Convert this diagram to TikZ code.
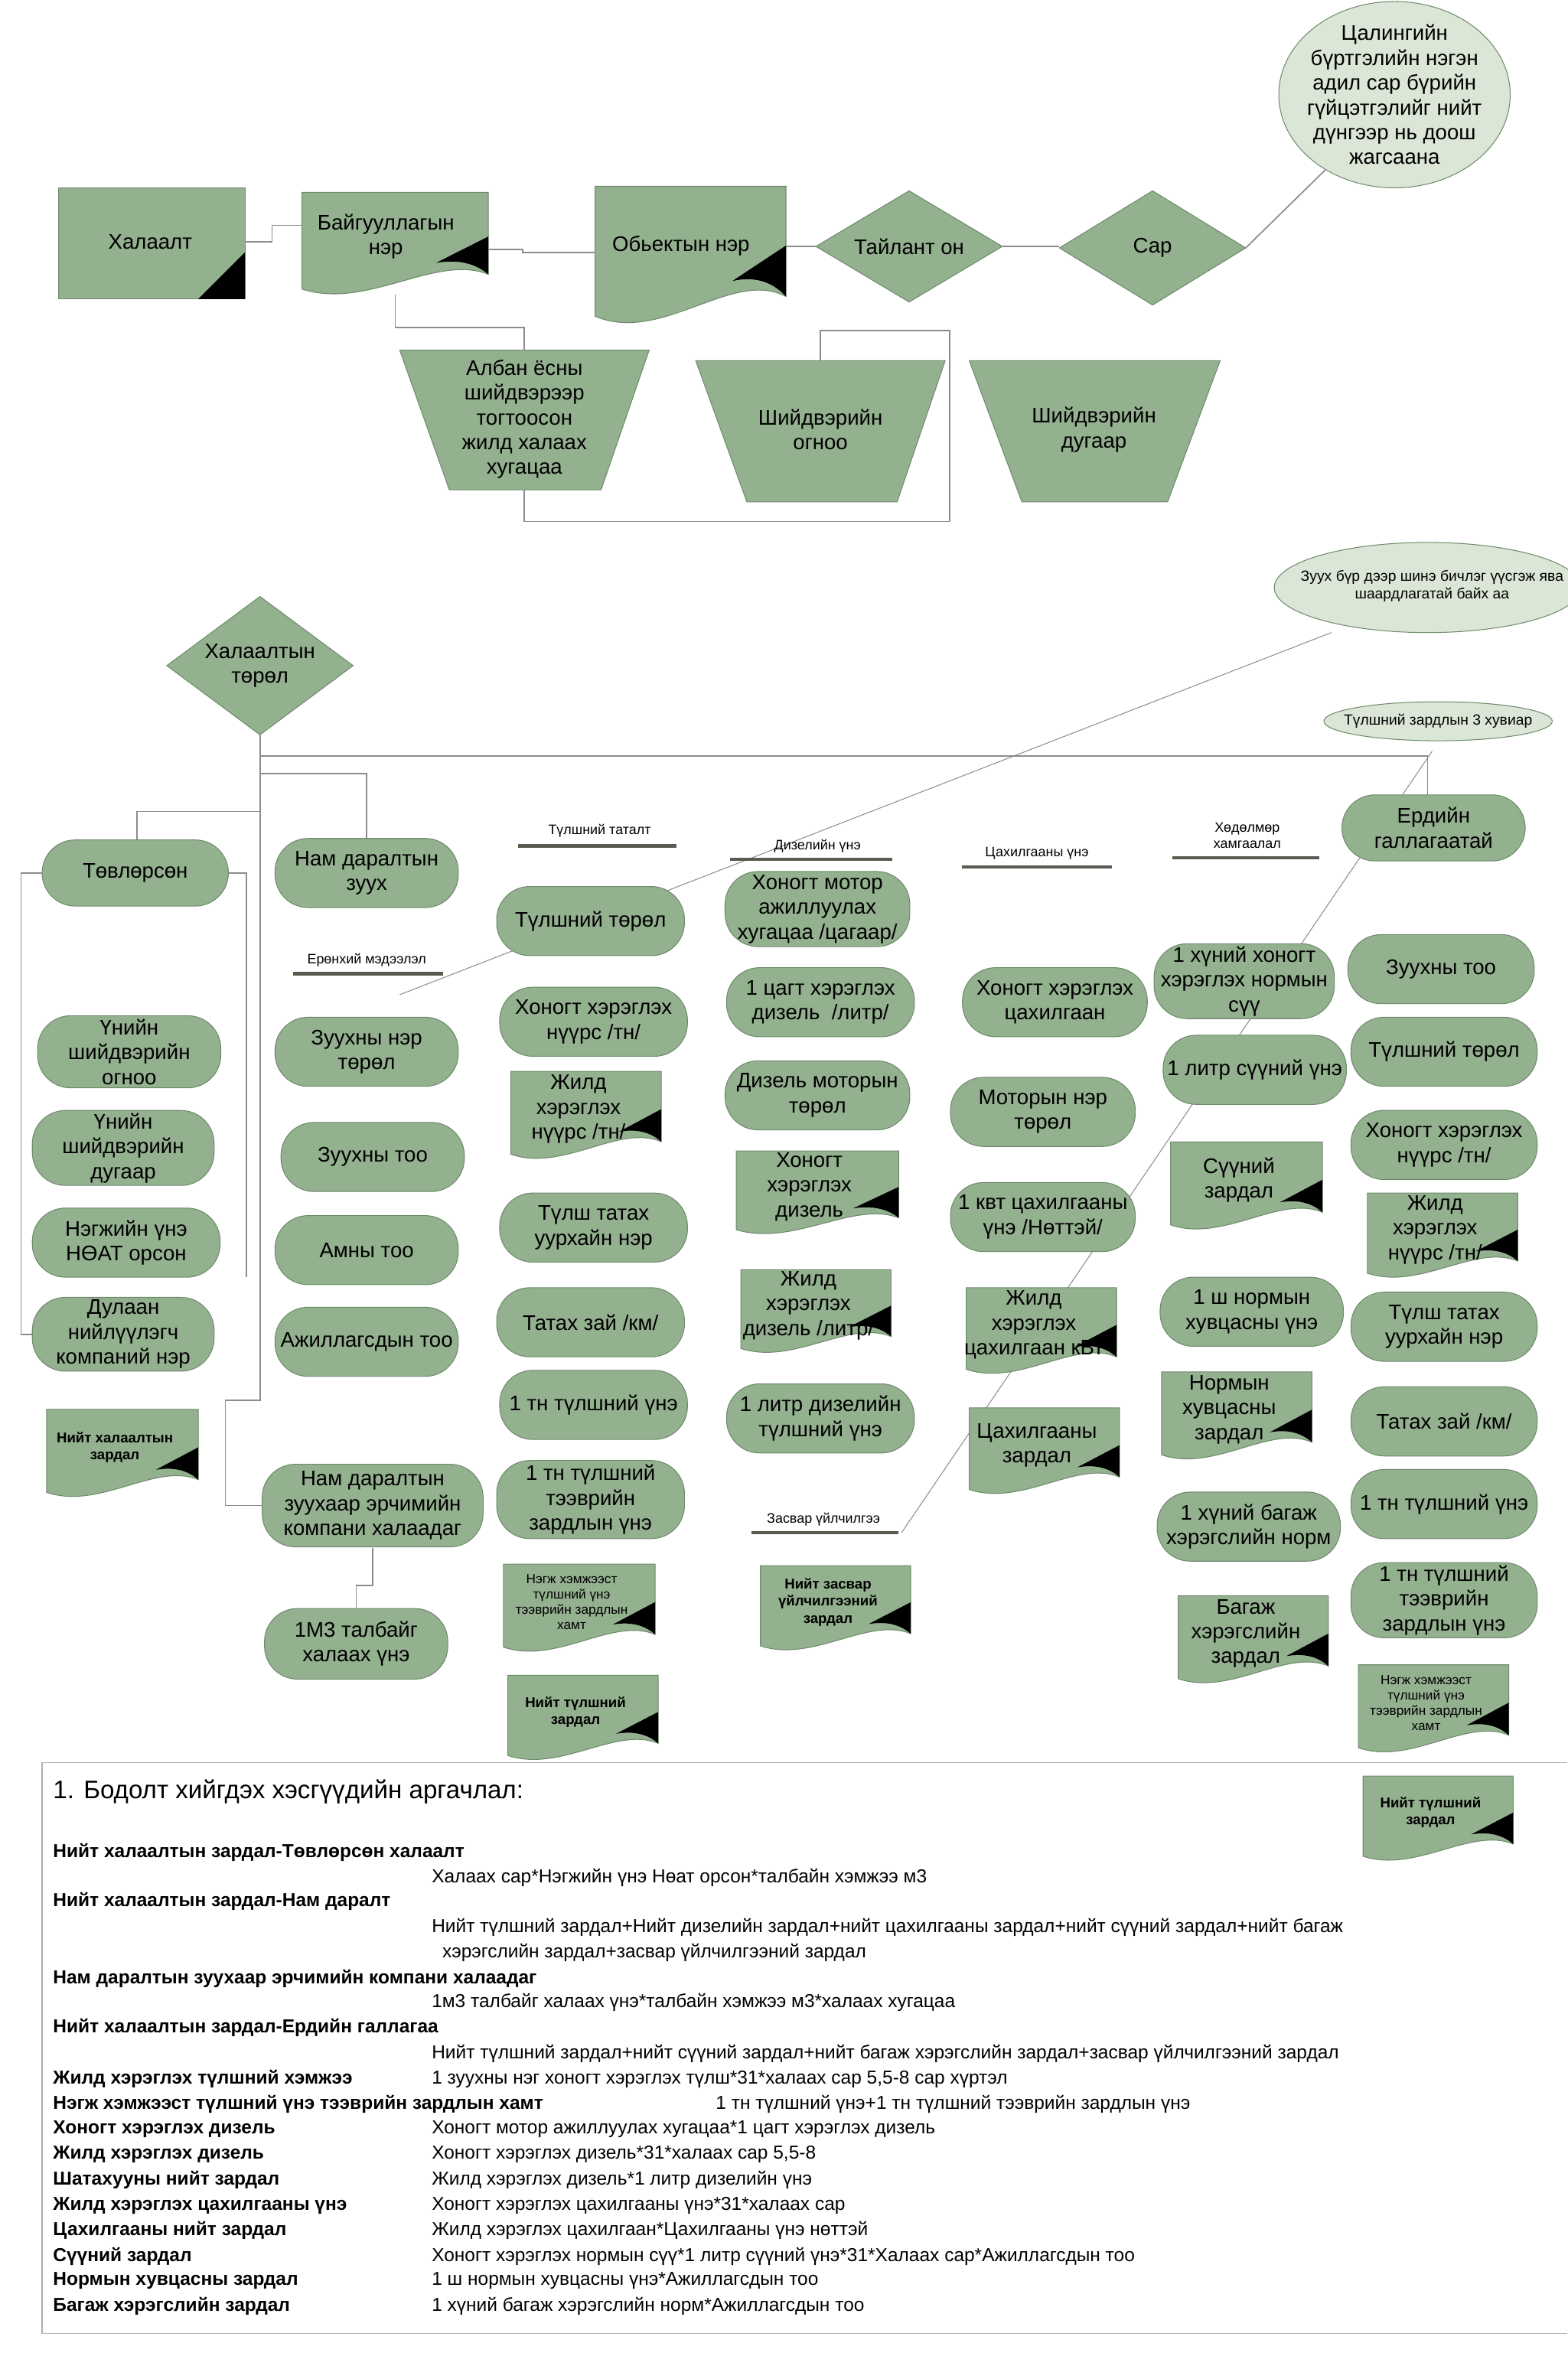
\documentclass[tikz,border=0pt]{standalone}
\usepackage{fontspec}
\setmainfont{Liberation Sans}
\begin{document}
\definecolor{G}{HTML}{93B08F}
\definecolor{Gd}{HTML}{6E8A6B}
\definecolor{EL}{HTML}{DCE6D6}
\definecolor{LN}{HTML}{8C8C8C}
\definecolor{BAR}{HTML}{5A5A50}
\newcommand\dc[7]{%
 \pgfmathsetmacro\dW{#4-#2}\pgfmathsetmacro\dH{#5-#3}%
 \fill[G,draw=Gd,line width=0.3pt] (#2,#3) -- (#4,#3) -- (#4,#5-0.22*\dH) .. controls (#2+0.72*\dW,#5-0.42*\dH) and (#2+0.35*\dW,#5+0.12*\dH) .. (#2,#5-0.08*\dH) -- cycle;
 \fill[black] (#4,#3+0.42*\dH) -- (#4,#5-0.22*\dH) .. controls (#4-0.08*\dW,#5-0.34*\dH) and (#4-0.18*\dW,#5-0.36*\dH) .. (#4-0.28*\dW,#5-0.33*\dH) -- cycle;
 \node[font=#6,align=center] (#1) at (#2+0.45*\dW,#3+0.42*\dH) {#7};}
\newcommand\rb[5]{\node[rb,minimum width=#4*0.02cm,minimum height=#5*0.02cm] (#1) at (#2,#3) {\strut#4};}
\begin{tikzpicture}[x={(0.02cm,0)},y={(0,-0.02cm)},
 rb/.style={fill=G,draw=Gd,line width=0.3pt,rounded corners=0.44cm,align=center,font=\fontsize{8}{9.4}\selectfont,inner sep=1pt},
 ln/.style={draw=LN,line width=0.5pt},
 bar/.style={draw=BAR,line width=1.2pt},
 lbl/.style={font=\fontsize{5.2}{6}\selectfont,align=center},
 nf/.style={font=\fontsize{8}{9.4}\selectfont,align=center},
 sb/.style={font=\fontsize{5.4}{6.4}\selectfont\bfseries},
 ss/.style={font=\fontsize{5}{5.8}\selectfont},
 tb/.style={anchor=base west,font=\fontsize{7.1}{8}\selectfont\bfseries,inner sep=0},
 tv/.style={anchor=base west,font=\fontsize{7.1}{8}\selectfont,inner sep=0}]
\useasboundingbox (0,0) rectangle (1043,1568);
\fill[white] (0,0) rectangle (1043,1568);
% ---------- top ----------
\fill[G,draw=Gd,line width=0.3pt] (39,125) rectangle (163,199);
\fill[black] (163,168) -- (163,199) -- (132,199) -- cycle;
\node[nf] (hal) at (100,161) {Халаалт};
\dc{bai}{201}{128}{325}{198}{\fontsize{8}{9.4}\selectfont}{Байгууллагын\\нэр}
\dc{obj}{396}{124}{523}{218}{\fontsize{8}{9.4}\selectfont}{Обьектын нэр}
\path (bai.center)++(0,-8) coordinate (baiT);
\fill[G,draw=Gd,line width=0.3pt] (543,164) -- (605,127) -- (667,164) -- (605,201) -- cycle;
\node[nf] (tai) at (605,164) {Тайлант он};
\fill[G,draw=Gd,line width=0.3pt] (705,165) -- (767,127) -- (829,165) -- (767,203) -- cycle;
\node[nf] (sar) at (767,165) {Сар};
\fill[EL,draw=Gd,line width=0.3pt] (928,63) ellipse (77 and 62);
\node[nf] (cal) at (928,63) {Цалингийн\\бүртгэлийн нэгэн\\адил сар бүрийн\\гүйцэтгэлийг нийт\\дүнгээр нь доош\\жагсаана};
\fill[G,draw=Gd,line width=0.3pt] (266,233) -- (432,233) -- (400,326) -- (299,326) -- cycle;
\node[nf] (alb) at (349,279) {Албан ёсны\\шийдвэрээр\\тогтоосон\\жилд халаах\\хугацаа};
\fill[G,draw=Gd,line width=0.3pt] (463,240) -- (629,240) -- (597,334) -- (497,334) -- cycle;
\node[nf] (ogn) at (546,286) {Шийдвэрийн\\огноо};
\fill[G,draw=Gd,line width=0.3pt] (645,240) -- (812,240) -- (777,334) -- (680,334) -- cycle;
\node[nf] (dug) at (728,286) {Шийдвэрийн\\дугаар};
\draw[ln] (163,161) -- (181,161) -- (181,150) -- (201,150);
\draw[ln] (325,166) -- (348,166) -- (348,168) -- (396,168);
\draw[ln] (523,164) -- (543,164);
\draw[ln] (667,164) -- (705,164);
\draw[ln] (829,165) -- (882,113);
\draw[ln] (263,196) -- (263,218) -- (349,218) -- (349,233);
\draw[ln] (546,240) -- (546,220) -- (632,220) -- (632,347) -- (349,347) -- (349,326);
% ---------- middle ----------
\fill[G,draw=Gd,line width=0.3pt] (111,443) -- (173,397) -- (235,443) -- (173,489) -- cycle;
\node[nf] (tor) at (173,443) {Халаалтын\\төрөл};
\fill[EL,draw=Gd,line width=0.3pt] (950,391) ellipse (102 and 30);
\node[font=\fontsize{5.6}{6.6}\selectfont,align=center] (zuuh) at (953,390) {Зуух бүр дээр шинэ бичлэг үүсгэж ява\\шаардлагатай байх аа};
\fill[EL,draw=Gd,line width=0.3pt] (957,480) ellipse (76 and 13);
\node[font=\fontsize{5.6}{6.6}\selectfont] (h3) at (957,480) {Түлшний зардлын 3 хувиар};
\draw[ln,line width=0.3pt] (886,421) -- (266,662);
\draw[ln,line width=0.3pt] (953,500) -- (600,1020);
% tree lines
\draw[ln] (173,489) -- (173,932) -- (150,932) -- (150,1002) -- (175,1002);
\draw[ln] (173,503) -- (950,503) -- (950,530);
\draw[ln] (173,540) -- (91,540) -- (91,560);
\draw[ln] (173,515) -- (244,515) -- (244,560);
\draw[ln] (28,581) -- (14,581) -- (14,888) -- (22,888);
\draw[ln] (152,581) -- (164,581) -- (164,850);
\draw[ln] (248,1030) -- (248,1055) -- (237,1055) -- (237,1070);
% col A
\node[rb,minimum width=2.48cm,minimum height=0.88cm] (tov) at (90,581) {Төвлөрсөн};
\node[rb,minimum width=2.44cm,minimum height=0.96cm] (a1) at (86,700) {Үнийн\\шийдвэрийн\\огноо};
\node[rb,minimum width=2.42cm,minimum height=0.96cm] (a2) at (82,764) {Үнийн\\шийдвэрийн\\дугаар};
\node[rb,minimum width=2.5cm,minimum height=0.92cm] (a3) at (84,827) {Нэгжийн үнэ\\НӨАТ орсон};
\node[rb,minimum width=2.42cm,minimum height=0.94cm] (a4) at (82,888) {Дулаан\\нийлүүлэгч\\компаний нэр};
\dc{a5}{31}{938}{132}{998}{\fontsize{5.4}{6.4}\selectfont\bfseries}{Нийт халаалтын\\зардал}
% col B
\node[rb,minimum width=2.44cm,minimum height=0.92cm] (nam) at (244,581) {Нам даралтын\\зуух};
\node[lbl] (b0) at (244,639) {Ерөнхий мэдээлэл};
\draw[bar] (195,648) -- (295,648);
\node[rb,minimum width=2.44cm,minimum height=0.92cm] (b1) at (244,700) {Зуухны нэр\\төрөл};
\node[rb,minimum width=2.44cm,minimum height=0.92cm] (b2) at (248,770) {Зуухны тоо};
\node[rb,minimum width=2.44cm,minimum height=0.92cm] (b3) at (244,832) {Амны тоо};
\node[rb,minimum width=2.44cm,minimum height=0.92cm] (b4) at (244,893) {Ажиллагсдын тоо};
\node[rb,minimum width=2.94cm,minimum height=1.1cm] (b5) at (248,1002) {Нам даралтын\\зуухаар эрчимийн\\компани халаадаг};
\node[rb,minimum width=2.44cm,minimum height=0.94cm] (b6) at (237,1094) {1М3 талбайг\\халаах үнэ};
% col C
\node[lbl] (c0) at (399,553) {Түлшний таталт};
\draw[bar] (345,563) -- (450,563);
\node[rb,minimum width=2.5cm,minimum height=0.92cm] (c1) at (393,613) {Түлшний төрөл};
\node[rb,minimum width=2.5cm,minimum height=0.92cm] (c2) at (395,680) {Хоногт хэрэглэх\\нүүрс /тн/};
\dc{c3}{340}{713}{440}{773}{\fontsize{8}{9.4}\selectfont}{Жилд\\хэрэглэх\\нүүрс /тн/};
\node[rb,minimum width=2.5cm,minimum height=0.92cm] (c4) at (395,817) {Түлш татах\\уурхайн нэр};
\node[rb,minimum width=2.5cm,minimum height=0.92cm] (c5) at (393,880) {Татах зай /км/};
\node[rb,minimum width=2.5cm,minimum height=0.92cm] (c6) at (395,935) {1 тн түлшний үнэ};
\node[rb,minimum width=2.5cm,minimum height=1.04cm] (c7) at (393,998) {1 тн түлшний\\тээврийн\\зардлын үнэ};
\dc{c8}{335}{1041}{436}{1101}{\fontsize{5}{5.8}\selectfont}{Нэгж хэмжээст\\түлшний үнэ\\тээврийн зардлын\\хамт}
\dc{c9}{338}{1115}{438}{1173}{\fontsize{5.4}{6.4}\selectfont\bfseries}{Нийт түлшний\\зардал}
% col D
\node[lbl] (d0) at (544,563) {Дизелийн үнэ};
\draw[bar] (486,572) -- (594,572);
\node[rb,minimum width=2.46cm,minimum height=1.0cm] (d1) at (544,605) {Хоногт мотор\\ажиллуулах\\хугацаа /цагаар/};
\node[rb,minimum width=2.5cm,minimum height=0.92cm] (d2) at (546,667) {1 цагт хэрэглэх\\дизель \ /литр/};
\node[rb,minimum width=2.46cm,minimum height=0.92cm] (d3) at (544,729) {Дизель моторын\\төрөл};
\dc{d4}{490}{766}{598}{823}{\fontsize{8}{9.4}\selectfont}{Хоногт\\хэрэглэх\\дизель}
\dc{d5}{493}{845}{593}{902}{\fontsize{8}{9.4}\selectfont}{Жилд\\хэрэглэх\\дизель /литр/}
\node[rb,minimum width=2.5cm,minimum height=0.92cm] (d6) at (546,944) {1 литр дизелийн\\түлшний үнэ};
\node[lbl] (d7) at (548,1011) {Засвар үйлчилгээ};
\draw[bar] (500,1020) -- (598,1020);
\dc{d8}{506}{1042}{606}{1100}{\fontsize{5.4}{6.4}\selectfont\bfseries}{Нийт засвар\\үйлчилгээний\\зардал}
% col E
\node[lbl] (e0) at (690,568) {Цахилгааны үнэ};
\draw[bar] (640,577) -- (740,577);
\node[rb,minimum width=2.46cm,minimum height=0.92cm] (e1) at (702,667) {Хоногт хэрэглэх\\цахилгаан};
\node[rb,minimum width=2.46cm,minimum height=0.92cm] (e2) at (694,740) {Моторын нэр\\төрөл};
\node[rb,minimum width=2.46cm,minimum height=0.92cm] (e3) at (694,810) {1 квт цахилгааны\\үнэ /Нөттэй/};
\dc{e4}{643}{857}{743}{916}{\fontsize{8}{9.4}\selectfont}{Жилд\\хэрэглэх\\цахилгаан кВт}
\dc{e5}{645}{937}{745}{996}{\fontsize{8}{9.4}\selectfont}{Цахилгааны\\зардал}
% col F
\node[lbl] (f0) at (830,556) {Хөдөлмөр\\хамгаалал};
\draw[bar] (780,571) -- (878,571);
\node[rb,minimum width=2.4cm,minimum height=0.96cm] (f1) at (828,653) {1 хүний хоногт\\хэрэглэх нормын\\сүү};
\node[rb,minimum width=2.44cm,minimum height=0.92cm] (f2) at (835,712) {1 литр сүүний үнэ};
\dc{f3}{779}{760}{880}{820}{\fontsize{8}{9.4}\selectfont}{Сүүний\\зардал}
\node[rb,minimum width=2.44cm,minimum height=0.92cm] (f4) at (833,873) {1 ш нормын\\хувцасны үнэ};
\dc{f5}{773}{913}{873}{973}{\fontsize{8}{9.4}\selectfont}{Нормын\\хувцасны\\зардал}
\node[rb,minimum width=2.44cm,minimum height=0.92cm] (f6) at (831,1016) {1 хүний багаж\\хэрэгслийн норм};
\dc{f7}{784}{1062}{884}{1122}{\fontsize{8}{9.4}\selectfont}{Багаж\\хэрэгслийн\\зардал}
% col G
\node[rb,minimum width=2.44cm,minimum height=0.88cm] (erd) at (954,551) {Ердийн\\галлагаатай};
\node[rb,minimum width=2.48cm,minimum height=0.92cm] (g1) at (959,645) {Зуухны тоо};
\node[rb,minimum width=2.48cm,minimum height=0.92cm] (g2) at (961,700) {Түлшний төрөл};
\node[rb,minimum width=2.48cm,minimum height=0.92cm] (g3) at (961,762) {Хоногт хэрэглэх\\нүүрс /тн/};
\dc{g4}{910}{794}{1010}{852}{\fontsize{8}{9.4}\selectfont}{Жилд\\хэрэглэх\\нүүрс /тн/}
\node[rb,minimum width=2.48cm,minimum height=0.92cm] (g5) at (961,883) {Түлш татах\\уурхайн нэр};
\node[rb,minimum width=2.48cm,minimum height=0.92cm] (g6) at (961,946) {Татах зай /км/};
\node[rb,minimum width=2.48cm,minimum height=0.92cm] (g7) at (961,1001) {1 тн түлшний үнэ};
\node[rb,minimum width=2.48cm,minimum height=1.0cm] (g8) at (961,1065) {1 тн түлшний\\тээврийн\\зардлын үнэ};
\dc{g9}{904}{1108}{1004}{1168}{\fontsize{5}{5.8}\selectfont}{Нэгж хэмжээст\\түлшний үнэ\\тээврийн зардлын\\хамт}
\dc{g10}{907}{1182}{1007}{1240}{\fontsize{5.4}{6.4}\selectfont\bfseries}{Нийт түлшний\\зардал}
% ---------- bottom text ----------
\draw[draw=LN!70,line width=0.4pt] (1043,1173) -- (28,1173) -- (28,1553) -- (1043,1553);
\node[anchor=base west,inner sep=0,font=\fontsize{9.6}{11}\selectfont] (ttl) at (35,1197) {1. Бодолт хийгдэх хэсгүүдийн аргачлал:};
\node[tb] (t1) at (35,1236) {Нийт халаалтын зардал-Төвлөрсөн халаалт};
\node[tv] (v1) at (287,1253) {Халаах сар*Нэгжийн үнэ Нөат орсон*талбайн хэмжээ м3};
\node[tb] (t2) at (35,1269) {Нийт халаалтын зардал-Нам даралт};
\node[tv] (v2) at (287,1286) {Нийт түлшний зардал+Нийт дизелийн зардал+нийт цахилгааны зардал+нийт сүүний зардал+нийт багаж};
\node[tv] (v2b) at (294,1303) {хэрэгслийн зардал+засвар үйлчилгээний зардал};
\node[tb] (t3) at (35,1320) {Нам даралтын зуухаар эрчимийн компани халаадаг};
\node[tv] (v3) at (287,1336) {1м3 талбайг халаах үнэ*талбайн хэмжээ м3*халаах хугацаа};
\node[tb] (t4) at (35,1353) {Нийт халаалтын зардал-Ердийн галлагаа};
\node[tv] (v4) at (287,1370) {Нийт түлшний зардал+нийт сүүний зардал+нийт багаж хэрэгслийн зардал+засвар үйлчилгээний зардал};
\node[tb] (t5) at (35,1387) {Жилд хэрэглэх түлшний хэмжээ};
\node[tv] (v5) at (287,1387) {1 зуухны нэг хоногт хэрэглэх түлш*31*халаах сар 5,5-8 сар хүртэл};
\node[tb] (t6) at (35,1404) {Нэгж хэмжээст түлшний үнэ тээврийн зардлын хамт};
\node[tv] (v6) at (476,1404) {1 тн түлшний үнэ+1 тн түлшний тээврийн зардлын үнэ};
\node[tb] (t7) at (35,1420) {Хоногт хэрэглэх дизель};
\node[tv] (v7) at (287,1420) {Хоногт мотор ажиллуулах хугацаа*1 цагт хэрэглэх дизель};
\node[tb] (t8) at (35,1437) {Жилд хэрэглэх дизель};
\node[tv] (v8) at (287,1437) {Хоногт хэрэглэх дизель*31*халаах сар 5,5-8};
\node[tb] (t9) at (35,1454) {Шатахууны нийт зардал};
\node[tv] (v9) at (287,1454) {Жилд хэрэглэх дизель*1 литр дизелийн үнэ};
\node[tb] (t10) at (35,1471) {Жилд хэрэглэх цахилгааны үнэ};
\node[tv] (v10) at (287,1471) {Хоногт хэрэглэх цахилгааны үнэ*31*халаах сар};
\node[tb] (t11) at (35,1488) {Цахилгааны нийт зардал};
\node[tv] (v11) at (287,1488) {Жилд хэрэглэх цахилгаан*Цахилгааны үнэ нөттэй};
\node[tb] (t12) at (35,1505) {Сүүний зардал};
\node[tv] (v12) at (287,1505) {Хоногт хэрэглэх нормын сүү*1 литр сүүний үнэ*31*Халаах сар*Ажиллагсдын тоо};
\node[tb] (t13) at (35,1521) {Нормын хувцасны зардал};
\node[tv] (v13) at (287,1521) {1 ш нормын хувцасны үнэ*Ажиллагсдын тоо};
\node[tb] (t14) at (35,1538) {Багаж хэрэгслийн зардал};
\node[tv] (v14) at (287,1538) {1 хүний багаж хэрэгслийн норм*Ажиллагсдын тоо};
\end{tikzpicture}
\end{document}
